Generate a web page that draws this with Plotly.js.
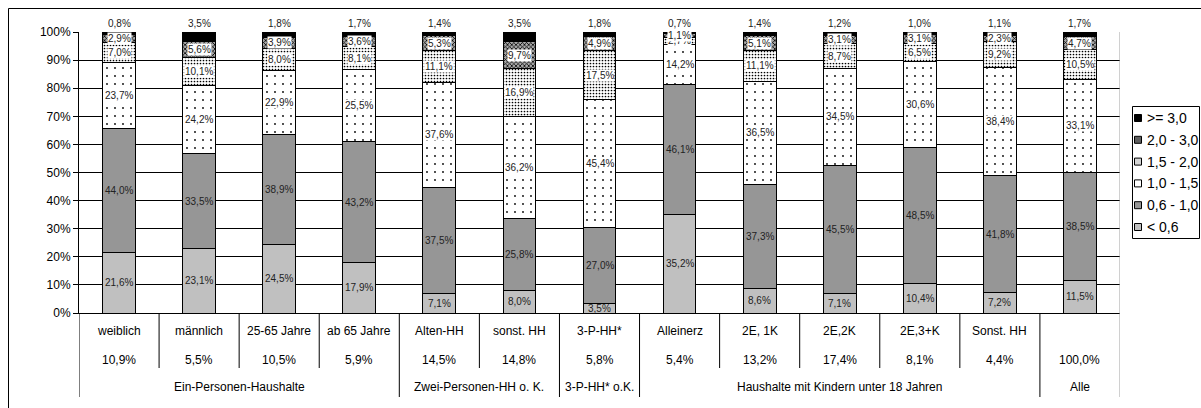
<!DOCTYPE html>
<html><head><meta charset="utf-8">
<script src="https://cdn.plot.ly/plotly-3.0.1.min.js"></script>
<style>html,body{margin:0;padding:0;background:#fff}#chart{width:1201px;height:408px}</style>
</head><body><div id="chart"></div>
<script>
// ---- data ----
const categories = ['weiblich','männlich','25-65 Jahre','ab 65 Jahre','Alten-HH','sonst. HH','3-P-HH*','Alleinerz','2E, 1K','2E,2K','2E,3+K','Sonst. HH',''];
const shares = [10.9,5.5,10.5,5.9,14.5,14.8,5.8,5.4,13.2,17.4,8.1,4.4,100.0];
const groupLabels = ['Ein-Personen-Haushalte','Zwei-Personen-HH o. K.','3-P-HH* o.K.','Haushalte mit Kindern unter 18 Jahren','Alle'];
const groupSizes = [4,2,1,5,1];
const seriesNames = ['< 0,6','0,6 - 1,0','1,0 - 1,5','1,5 - 2,0','2,0 - 3,0','>= 3,0'];
const yTickVals = [0,10,20,30,40,50,60,70,80,90,100];
const yTickText = ['0%','10%','20%','30%','40%','50%','60%','70%','80%','90%','100%'];
const lt06   = [21.6,23.1,24.5,17.9,7.1,8.0,3.5,35.2,8.6,7.1,10.4,7.2,11.5];
const r06_10 = [44.0,33.5,38.9,43.2,37.5,25.8,27.0,46.1,37.3,45.5,48.5,41.8,38.5];
const r10_15 = [23.7,24.2,22.9,25.5,37.6,36.2,45.4,14.2,36.5,34.5,30.6,38.4,33.1];
const r15_20 = [7.0,10.1,8.0,8.1,11.1,16.9,17.5,2.7,11.1,8.7,6.5,9.2,10.5];
const r20_30 = [2.9,5.6,3.9,3.6,5.3,9.7,4.9,1.1,5.1,3.1,3.1,2.3,4.7];
const ge30   = [0.8,3.5,1.8,1.7,1.4,3.5,1.8,0.7,1.4,1.2,1.0,1.1,1.7];
const series = [lt06, r06_10, r10_15, r15_20, r20_30, ge30];

// ---- styles ----
const FONT = 'Liberation Sans, Arial, sans-serif';
const markers = [
  {color:'#c0c0c0'},
  {color:'#969696'},
  {color:'#ffffff', pattern:{shape:'.', fgcolor:'#000000', bgcolor:'#ffffff', size:8, solidity:0.04}},
  {color:'#ffffff', pattern:{shape:'.', fgcolor:'#000000', bgcolor:'#ffffff', size:3, solidity:0.25}},
  {color:'#808080', pattern:{shape:'x', fgcolor:'#000000', bgcolor:'#a8a8a8', size:3, solidity:0.45}},
  {color:'#000000'}
];
const legendSwatch = ['#c0c0c0','#969696','#ffffff','#d4d4d4','#5e5e5e','#000000'];

// geometry (pixels)
const L=79, T=32, W=1041, H=281, FW=1201, FH=408;
const px2x = p => (p-L)/W;
const py2y = p => (T+H-p)/H;
const fmt = v => v.toFixed(1).replace('.', ',') + '%';

const xs = categories.map((_, i) => i);
const traces = series.map((vals, s) => ({
  type:'bar', x: xs, y: vals, name: seriesNames[s], width: 0.41,
  marker: Object.assign({line:{color:'#000000', width:1}}, markers[s]),
  hoverinfo:'skip', showlegend:false
}));

const annotations = [];
// data labels
const cum = xs.map(() => 0);
series.forEach((vals, s) => {
  vals.forEach((v, i) => {
    const b = cum[i];
    if (s === 5) {
      annotations.push({x:i, y:100, xref:'x', yref:'y', xanchor:'center', yanchor:'bottom', yshift:2, text:fmt(v), showarrow:false,
        font:{family:FONT, size:10, color:'#222'}, bgcolor:'#ffffff', borderpad:0});
    } else {
      annotations.push({x:i, y:b+v/2, xref:'x', yref:'y', xanchor:'center', yanchor:'middle', text:fmt(v), showarrow:false,
        font:{family:FONT, size:10, color:'#222'}, bgcolor: s>=2 ? '#ffffff' : 'rgba(0,0,0,0)', borderpad:0});
    }
    cum[i] = b + v;
  });
});
// table rows
const tfont = {family:FONT, size:12, color:'#000'};
categories.forEach((c, i) => {
  if (c) annotations.push({x:i, y:py2y(331), xref:'x', yref:'paper', xanchor:'center', yanchor:'middle', text:c, showarrow:false, font:tfont});
  annotations.push({x:i, y:py2y(360), xref:'x', yref:'paper', xanchor:'center', yanchor:'middle', text:fmt(shares[i]), showarrow:false, font:tfont});
});
let start = 0;
const longBounds = [0];
groupLabels.forEach((g, k) => {
  const n = groupSizes[k];
  annotations.push({x:start+(n-1)/2, y:py2y(387), xref:'x', yref:'paper', xanchor:'center', yanchor:'middle', text:g, showarrow:false, font:tfont});
  start += n;
  longBounds.push(start);
});

const shapes = [];
// outer frame
shapes.push({type:'rect', xref:'paper', yref:'paper', x0:px2x(8.5), x1:px2x(FW+5), y0:py2y(FH+5), y1:py2y(8.5), line:{color:'#000', width:1}});
// table dividers
for (let k = 0; k <= categories.length; k++) {
  const isLong = longBounds.includes(k);
  const last = k === categories.length;
  shapes.push({type:'line', xref:'x', yref:'paper', x0:k-0.5, x1:k-0.5,
    y0: last ? 1 : 0, y1: py2y(isLong ? 397 : 368),
    line:{color: last ? '#a0a0a0' : '#000', width:1}});
}
// manual legend
shapes.push({type:'rect', xref:'paper', yref:'paper', x0:px2x(1132.5), x1:px2x(1199.5), y0:py2y(238.5), y1:py2y(106.5), line:{color:'#000', width:1}, fillcolor:'#fff'});
for (let j = 0; j < 6; j++) {
  const s = 5 - j;
  const cy = 118 + j*21.8;
  shapes.push({type:'rect', xref:'paper', yref:'paper', x0:px2x(1134.5), x1:px2x(1141.5), y0:py2y(cy+3.5), y1:py2y(cy-3.5),
    line:{color:'#000', width:1}, fillcolor: legendSwatch[s]});
  annotations.push({x:px2x(1145), y:py2y(cy), xref:'paper', yref:'paper', xanchor:'left', yanchor:'middle', text:seriesNames[s], showarrow:false,
    font:{family:FONT, size:14, color:'#000'}});
}

const layout = {
  width:FW, height:FH,
  margin:{l:L, r:FW-L-W, t:T, b:FH-T-H, pad:0},
  paper_bgcolor:'#ffffff', plot_bgcolor:'#ffffff',
  barmode:'stack', showlegend:false,
  font:{family:FONT, size:12, color:'#000'},
  xaxis:{range:[-0.5, categories.length-0.5], showticklabels:false, ticks:'', showgrid:false, zeroline:false,
    showline:true, linecolor:'#000', linewidth:1, fixedrange:true},
  yaxis:{range:[0,100], tickmode:'array', tickvals:yTickVals, ticktext:yTickText, ticks:'outside', ticklen:5, tickcolor:'#000',
    showgrid:true, gridcolor:'#000', gridwidth:1, zeroline:false, showline:true, linecolor:'#000', linewidth:1,
    tickfont:{family:FONT, size:12, color:'#000'}, fixedrange:true},
  annotations, shapes
};
Plotly.newPlot('chart', traces, layout, {displayModeBar:false, staticPlot:true});
</script>
</body></html>
